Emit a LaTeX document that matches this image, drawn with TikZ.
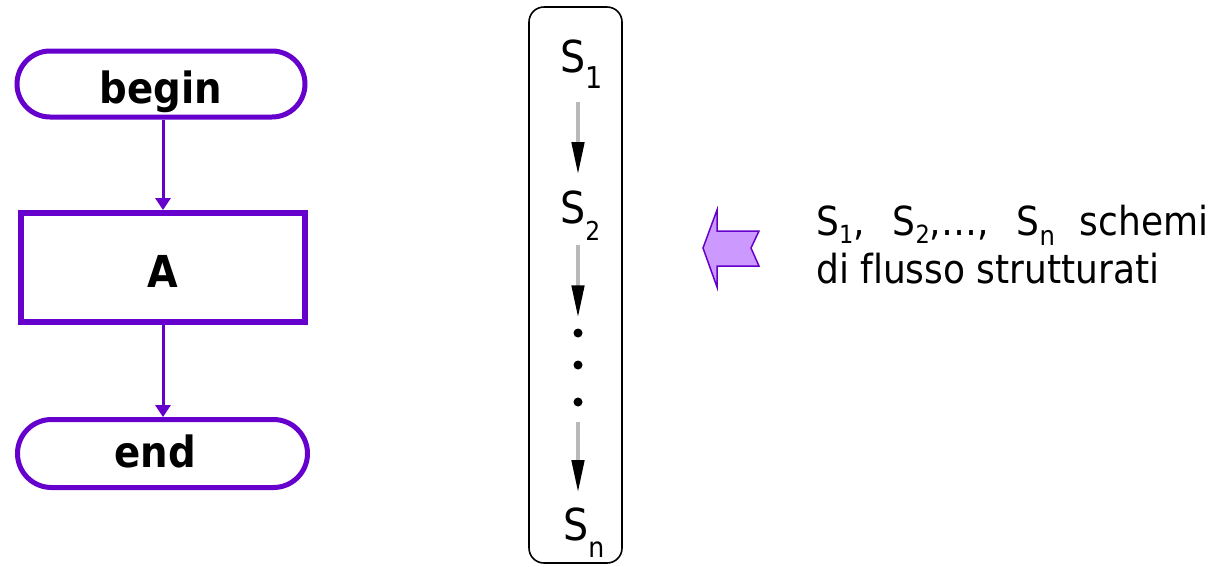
\documentclass[tikz,border=0pt]{standalone}
\usepackage{fontspec}
\setmainfont{DejaVu Sans Condensed}[Ligatures=CommonOff]
\usetikzlibrary{arrows.meta,shapes.misc,calc}
\definecolor{flowpurple}{RGB}{102,0,204}
\definecolor{arrowfill}{RGB}{204,153,255}
\definecolor{midgray}{RGB}{185,185,185}
\newcommand\lowsub[3]{\raisebox{-#2}{\fontsize{#3}{#3}\selectfont #1}}
\begin{document}
\begin{tikzpicture}[x=1pt,y=-1pt,
  terminal/.style={rounded rectangle, draw=flowpurple, line width=5pt, fill=white,
    font=\fontsize{43}{43}\selectfont\bfseries, inner sep=0pt},
  process/.style={rectangle, draw=flowpurple, line width=6pt, fill=white,
    font=\fontsize{44}{44}\selectfont\bfseries, inner sep=0pt},
  flow/.style={draw=flowpurple, line width=3pt, -{Triangle[length=12pt,width=15pt]}},
  seqbox/.style={draw=black, line width=1.6pt, rounded corners=15pt, inner sep=0pt},
  stext/.style={font=\fontsize{44}{44}\selectfont, inner sep=0pt, anchor=base west},
  midarrow/.style={draw=midgray, line width=4.5pt, -{Triangle[length=33pt,width=12pt,color=black]}},
  seqdot/.style={circle, fill=black, inner sep=0pt, minimum size=9pt},
  blockarrow/.style={draw=flowpurple, fill=arrowfill, line width=1.5pt, line join=miter}
]
\useasboundingbox (0,0) rectangle (1221,566);

% flowchart
\node[terminal, minimum width=288pt, minimum height=66pt, text height=40pt, text depth=2pt] (begin) at (161,84) {begin};
\node[process, minimum width=284pt, minimum height=109pt, text height=41pt, text depth=2pt] (A) at (163,267.5) {A};
\node[terminal, minimum width=290pt, minimum height=68pt, text height=29pt, text depth=2pt] (end) at (162.5,453.5) {end\hspace*{14pt}};
\draw[flow] (begin.south -| A.north) -- (A.north);
\draw[flow] (A.south) -- (A.south |- end.north);

% sequence box
\node[seqbox, minimum width=93pt, minimum height=556pt] (frame) at (575.5,285) {};
\node[stext] (s1) at (560,72) {S\lowsub{1}{16pt}{30}};
\node[stext] (s2) at (560,223) {S\lowsub{2}{17pt}{26}};
\node[stext] (sn) at (563,540) {S\lowsub{n}{17pt}{28}};
\node[seqdot] (d1) at (578,333) {};
\node[seqdot] (d2) at (578,365) {};
\node[seqdot] (d3) at (578,402) {};
\draw[midarrow] ($(s1.south west)+(18,14)$) -- ($(s2.north west)+(18,-15)$);
\draw[midarrow] ($(s2.south west)+(18,5)$) -- ($(d1.north)+(0,-10)$);
\draw[midarrow] ($(d3.south)+(0,15)$) -- ($(sn.north west)+(15,-14)$);

% block arrow
\draw[blockarrow] (703,248) -- (717,210) -- (717,231) -- (759,231) -- (751,248)
  -- (759,266) -- (717,266) -- (717,287) -- cycle;

% description
\node[anchor=base west, inner sep=0pt, font=\fontsize{40}{48}\selectfont] (desc) at (816,235)
  {\vtop{\baselineskip=48pt\hbox{\makebox[392pt][s]{S\lowsub{1}{8pt}{25}, S\lowsub{2}{8pt}{25},…, S\lowsub{n}{10pt}{27} schemi}}\hbox{di flusso strutturati}}};
\end{tikzpicture}
\end{document}
